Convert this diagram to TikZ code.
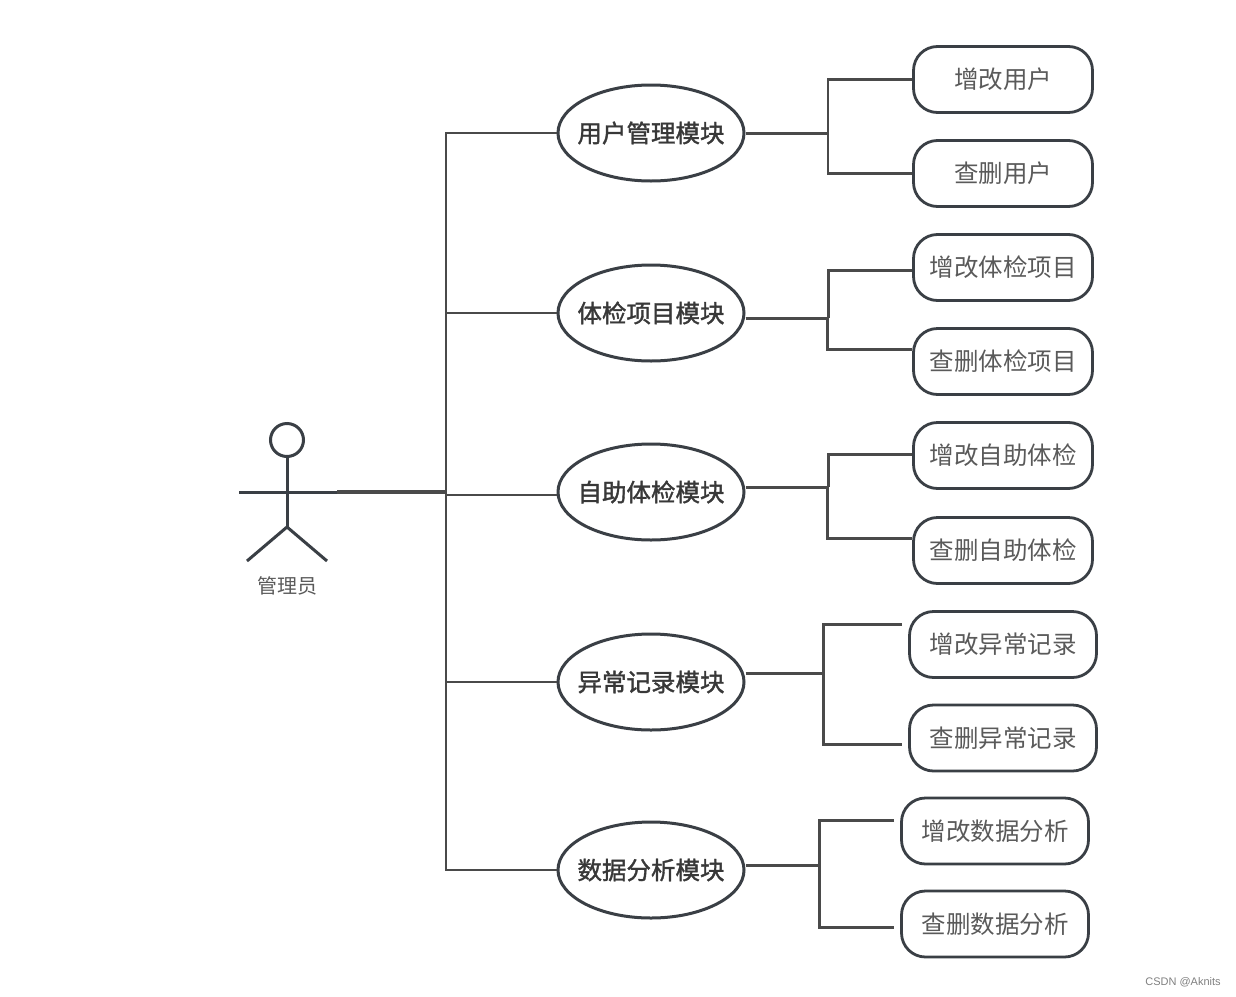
\documentclass[tikz,border=0pt]{standalone}
\usepackage{fontspec}
\setmainfont{Noto Sans CJK SC}
\newfontfamily\latinf{Liberation Sans}
\newfontfamily\modfont[FakeBold=1.5]{Noto Sans CJK SC}
\usetikzlibrary{shapes.geometric}
\definecolor{edgec}{HTML}{3A3F45}
\definecolor{linec}{HTML}{4A4A4A}
\definecolor{boxtxt}{HTML}{5A5A5A}
\definecolor{modtxt}{HTML}{383838}
\tikzset{
  x=1pt,y=-1pt,
  module/.style={ellipse,draw=edgec,line width=3pt,minimum width=186pt,minimum height=96pt,inner sep=-20pt,text=modtxt,font=\fontsize{24.5}{28}\modfont},
  leafbox/.style={rounded corners=24pt,draw=edgec,line width=2.8pt,minimum width=179pt,minimum height=66pt,inner sep=0pt,text=boxtxt,font=\fontsize{24.5}{28}\selectfont},
  leafwide/.style={leafbox,minimum width=187pt},
  link/.style={draw=linec,line width=3pt},
  linkthin/.style={draw=linec,line width=2.4pt},
  actorline/.style={draw=edgec,line width=3pt},
}
\begin{document}
\begin{tikzpicture}
\useasboundingbox (0,0) rectangle (1236,996);
\fill[white] (0,0) rectangle (1236,996);
% actor
\node[circle,draw=edgec,line width=3pt,minimum size=33pt,inner sep=0pt] (head) at (287,440) {};
\coordinate (hip) at (287,527);
\coordinate (armL) at (239,492);
\coordinate (armR) at (337,492);
\coordinate (legL) at (247,561);
\coordinate (legR) at (327,561);
\draw[actorline] (head.south) -- (hip);
\draw[actorline] (armL) -- (armR);
\draw[actorline] (legL) -- (hip) -- (legR);
\node[text=boxtxt,font=\fontsize{20}{24}\selectfont] (actorlabel) at (287,586) {管理员};
% modules
\node[module] (m1) at (651,133) {用户管理模块};
\node[module] (m2) at (651,313) {体检项目模块};
\node[module] (m3) at (651,492) {自助体检模块};
\node[module] (m4) at (651,682) {异常记录模块};
\node[module] (m5) at (651,870) {数据分析模块};
% leaves
\node[leafbox] (a1) at (1003,79.5) {增改用户};
\node[leafbox] (a2) at (1003,173.5) {查删用户};
\node[leafbox] (b1) at (1003,267.5) {增改体检项目};
\node[leafbox] (b2) at (1003,361.5) {查删体检项目};
\node[leafbox] (c1) at (1003,455.5) {增改自助体检};
\node[leafbox] (c2) at (1003,550.5) {查删自助体检};
\node[leafwide] (d1) at (1003,644.5) {增改异常记录};
\node[leafwide] (d2) at (1003,738) {查删异常记录};
\node[leafwide] (e1) at (995,831) {增改数据分析};
\node[leafwide] (e2) at (995,924) {查删数据分析};
% trunk
\coordinate (tTop) at (446,133);
\coordinate (tBot) at (446,870);
\coordinate (tMid) at (446,492);
\draw[link,line width=3.2pt] (armR) -- (tMid);
\draw[linkthin] (m1.west) -- (tTop) -- (tBot) -- (m5.west);
\draw[linkthin] (m2.west) -- (446,313);
\draw[linkthin] (m3.west |- 0,495) -- (446,495);
\draw[linkthin] (m4.west) -- (446,682);
% branch 1
\coordinate (j1) at (828,133);
\draw[link] (m1.east) -- (j1);
\draw[linkthin] (a1.west) -- (828,79.5) -- (828,173.5) -- (a2.west);
% branch 2
\coordinate (j2) at (828,318);
\draw[link] (m2.east |- j2) -- (j2);
\draw[link] (j2) -- (828,270) -- (b1.west |- 0,270);
\draw[link] (827,318) -- (827,349) -- (b2.west |- 0,349);
% branch 3
\coordinate (j3) at (828,487);
\draw[link] (m3.east |- j3) -- (j3);
\draw[link] (j3) -- (828,454) -- (c1.west |- 0,454);
\draw[link] (827,487) -- (827,538) -- (c2.west |- 0,538);
% branch 4
\coordinate (j4) at (823,673);
\coordinate (d1end) at (902,624);
\coordinate (d2end) at (902,744);
\draw[link] (m4.east |- j4) -- (j4);
\draw[link] (d1end) -- (823,624) -- (823,744) -- (d2end);
% branch 5
\coordinate (j5) at (819,865);
\coordinate (e1end) at (894,820);
\coordinate (e2end) at (894,927);
\draw[link] (m5.east |- j5) -- (j5);
\draw[link] (e1end) -- (819,820) -- (819,927) -- (e2end);
% watermark
\node[text=gray,font=\latinf\fontsize{11}{14}\selectfont] (wm) at (1183,982) {CSDN @Aknits};
\end{tikzpicture}
\end{document}
